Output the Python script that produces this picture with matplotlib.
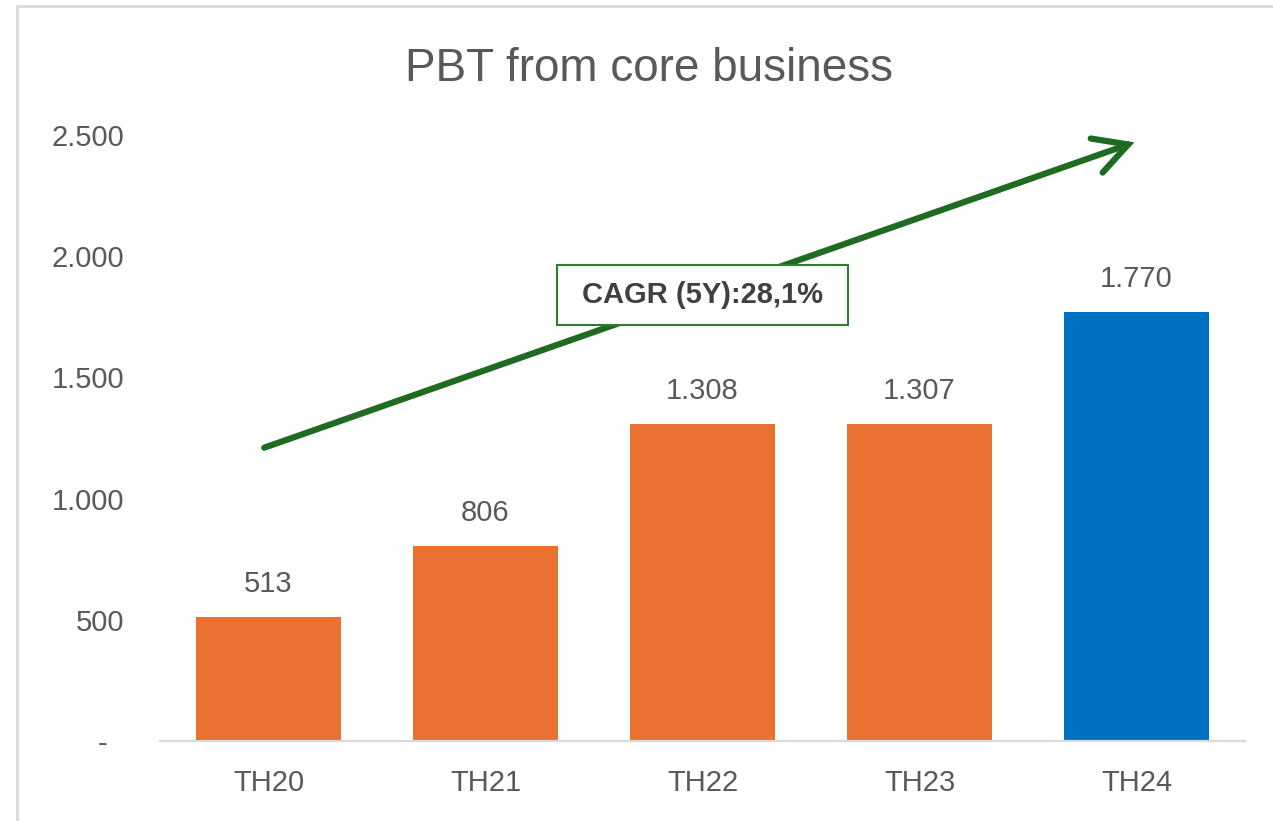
import matplotlib.pyplot as plt
from matplotlib.lines import Line2D
from matplotlib.patches import Rectangle
from matplotlib.ticker import FixedLocator, FuncFormatter

plt.rcParams['font.family'] = ['Liberation Sans', 'DejaVu Sans']

# Data
years = ['TH20', 'TH21', 'TH22', 'TH23', 'TH24']
pbt = [513, 806, 1308, 1307, 1770]
bar_colors = ['#E97132', '#E97132', '#E97132', '#E97132', '#0070C0']
yticks = [0, 500, 1000, 1500, 2000, 2500]
cagr_text = 'CAGR (5Y):28,1%'

GREY = '#595959'
GREEN = '#1F6B22'

fig = plt.figure(figsize=(12.73, 8.21), dpi=100)
ax = fig.add_axes([0.1257, 0.0975, 0.8523, 0.738])

x = range(len(years))
ax.bar(x, pbt, width=0.67, color=bar_colors, zorder=2)

# value labels
for i, v in zip(x, pbt):
    label = f'{v:,}'.replace(',', '.')
    ax.annotate(label, (i, v), xytext=(0, 18), textcoords='offset points',
                ha='center', va='baseline', fontsize=21, color=GREY)

ax.set_xlim(-0.5, 4.5)
ax.set_ylim(0, 2500)
ax.set_xticks(list(x))
ax.set_xticklabels(years)
ax.yaxis.set_major_locator(FixedLocator(yticks))
ax.yaxis.set_major_formatter(FuncFormatter(
    lambda v, p: '-  ' if v == 0 else f'{int(v):,}'.replace(',', '.')))
ax.tick_params(axis='both', length=0, labelsize=21, labelcolor=GREY)
ax.tick_params(axis='y', pad=26)
ax.tick_params(axis='x', pad=20)

for s in ['top', 'right', 'left']:
    ax.spines[s].set_visible(False)
ax.spines['bottom'].set_color('#D9D9D9')
ax.spines['bottom'].set_linewidth(1.6)
ax.spines['bottom'].set_zorder(3)

# growth arrow
ax.annotate('', xy=(3.99, 2470), xytext=(-0.02, 1210),
            arrowprops=dict(arrowstyle='->,head_length=2.4,head_width=1.3',
                            color=GREEN, lw=4.5, shrinkA=0, shrinkB=0,
                            capstyle='round', joinstyle='miter'),
            annotation_clip=False, zorder=4)

# CAGR box
ax.add_patch(Rectangle((1.331, 1716), 1.338, 248, facecolor='white',
                       edgecolor='#2E7D32', linewidth=1.5, zorder=5))
ax.text(2.0, 1840, cagr_text, ha='center', va='center', fontsize=21,
        fontweight='bold', color='#404040', zorder=6)

fig.suptitle('PBT from core business', x=0.51, y=0.943, fontsize=33, color=GREY)

# chart border (cropped)
fig.add_artist(Line2D([0.0134, 1.0], [0.9927, 0.9927], color='#D9D9D9', lw=2))
fig.add_artist(Line2D([0.0134, 0.0134], [0.0, 0.9927], color='#D9D9D9', lw=2))

fig.savefig('out.png', dpi=100)
